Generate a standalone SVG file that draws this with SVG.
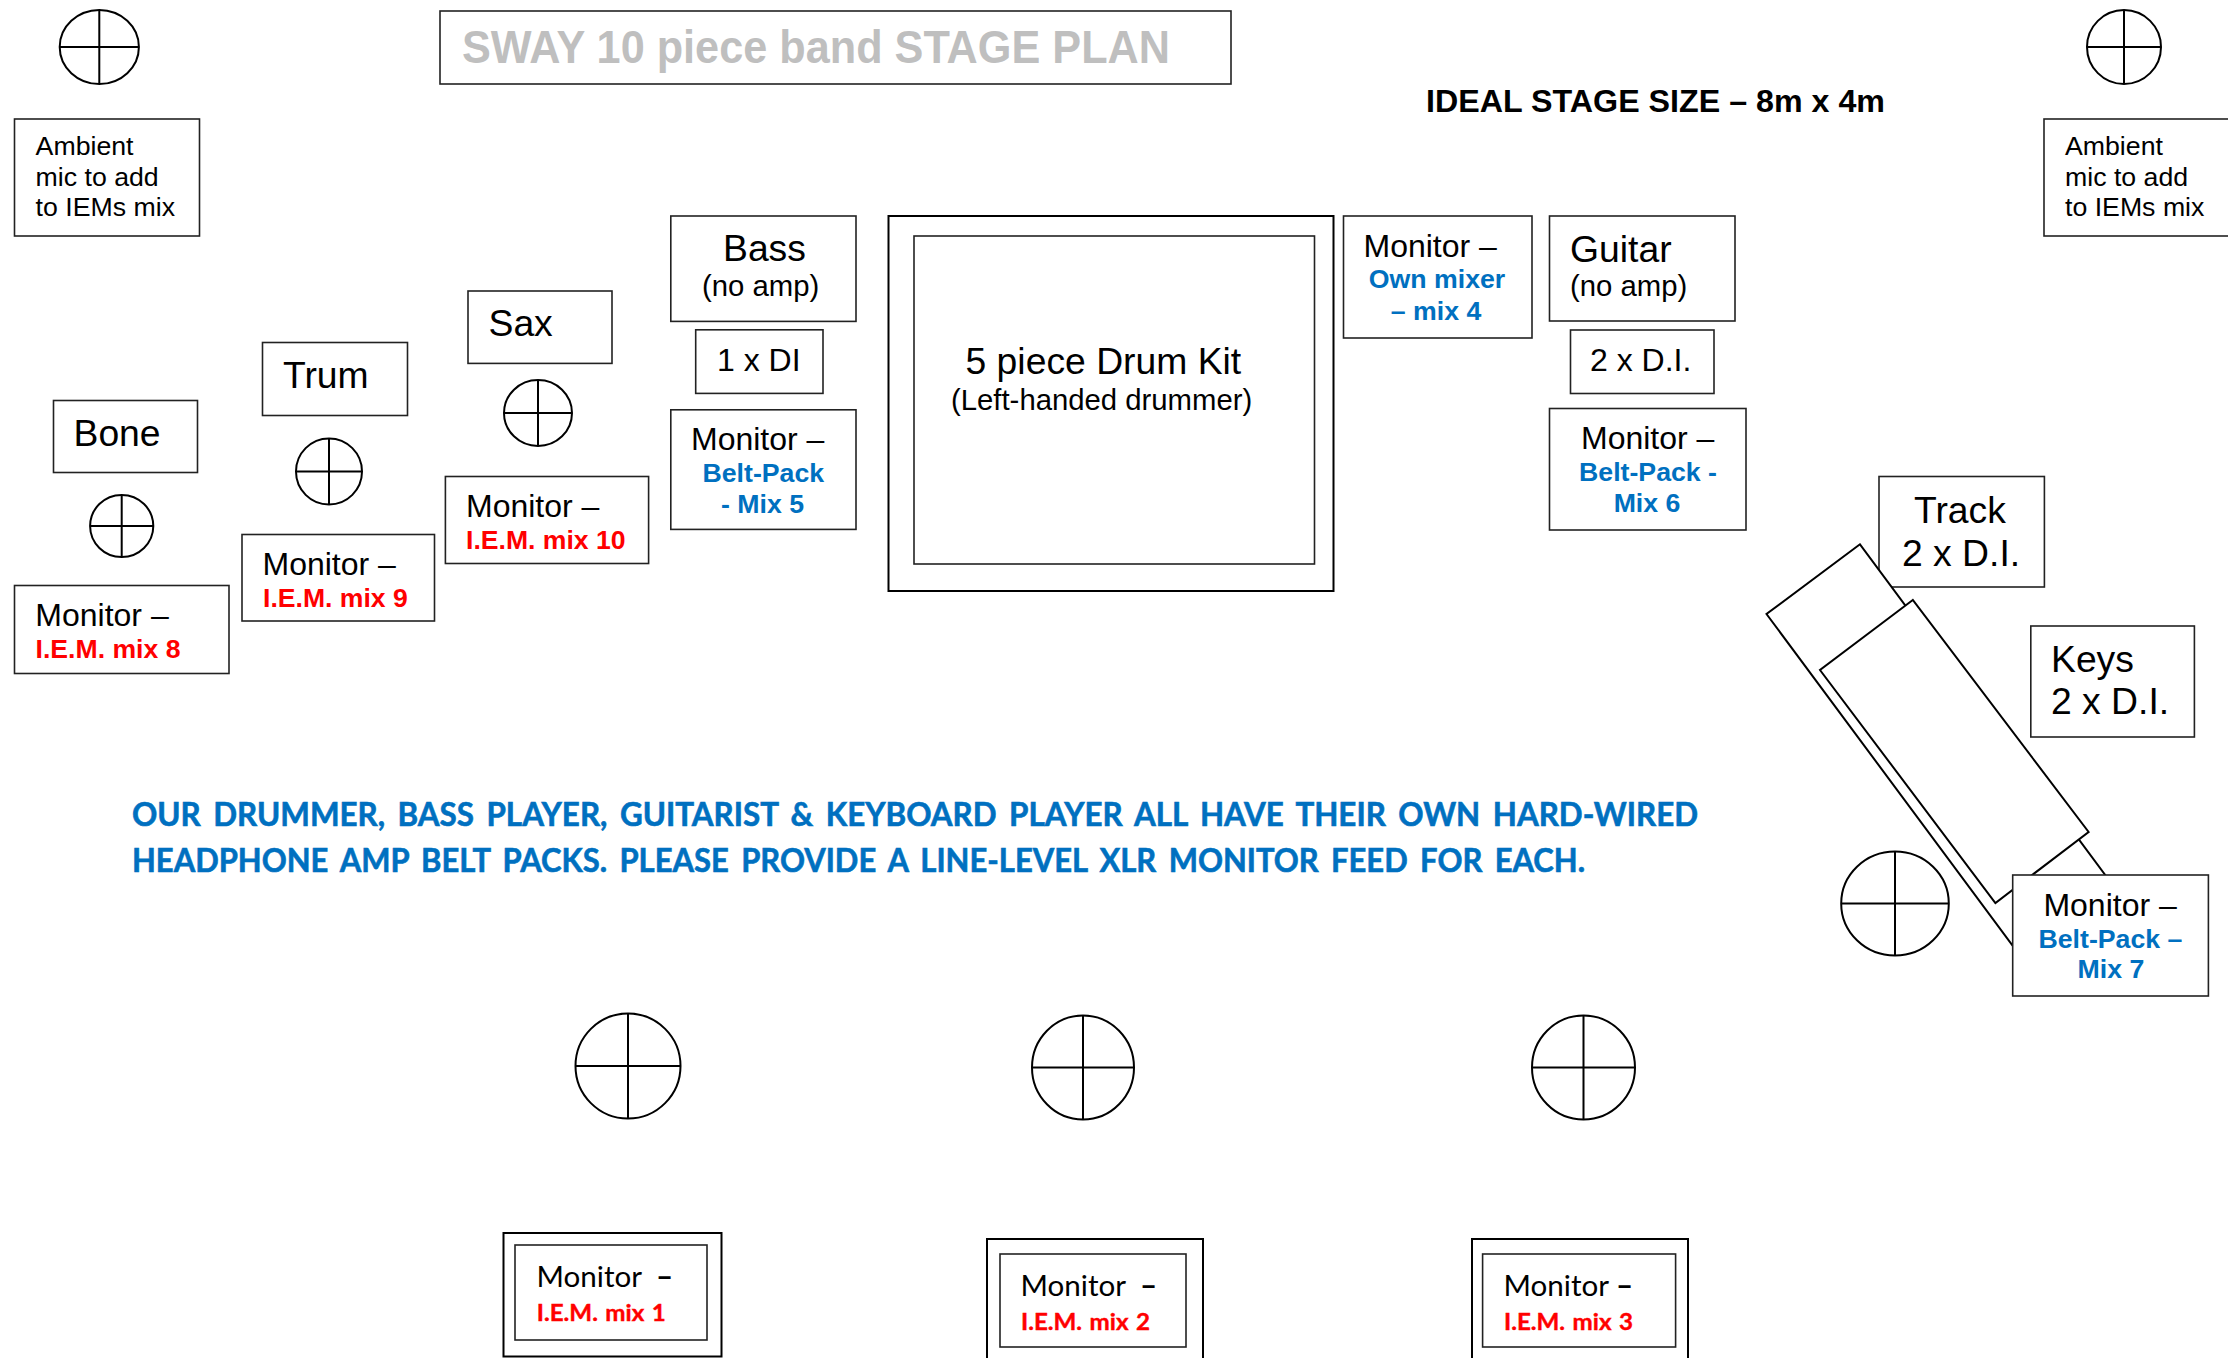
<svg xmlns="http://www.w3.org/2000/svg" width="2228" height="1358" viewBox="0 0 2228 1358">
<style>
text{font-family:"Liberation Sans",Arial,sans-serif;fill:#000}
.b{fill:#fff;stroke:#222;stroke-width:1.6}
.k{fill:#fff;stroke:#000;stroke-width:2}
.h{fill:none;stroke:#000;stroke-width:2}
.t37{font-size:37.300px}.t32{font-size:32px}.t29{font-size:29.300px}.t27{font-size:26.700px}
.red{font-size:26.600px;font-weight:700;fill:#f00}
.blue{font-size:26.700px;font-weight:700;fill:#0070c0}
.c{font-family:Lato,"Open Sans",sans-serif;font-size:29.600px}
.cred{font-family:Lato,"Open Sans",sans-serif;font-size:22.500px;font-weight:700;fill:#f00;stroke:#f00;stroke-width:.4px;word-spacing:1.5px}
.note{font-family:Lato,"Open Sans",sans-serif;font-size:32px;font-weight:700;fill:#0070c0;stroke:#0070c0;stroke-width:.6px;word-spacing:5px}
</style>
<rect width="2228" height="1358" fill="#fff"/>
<defs>
<g id="mic"><ellipse rx="1" ry="1" vector-effect="non-scaling-stroke" class="h"/><path d="M-1 0H1M0-1V1" vector-effect="non-scaling-stroke" class="h"/></g>
</defs>
<g id="title"><rect class="b" x="440" y="11" width="791" height="73"/><text x="462" y="63" font-size="46" font-weight="700" style="fill:#bfbfbf" textLength="708" lengthAdjust="spacingAndGlyphs">SWAY 10 piece band STAGE PLAN</text></g>
<g id="stage-size"><text x="1426" y="112" font-size="32" font-weight="700" textLength="459" lengthAdjust="spacingAndGlyphs">IDEAL STAGE SIZE – 8m x 4m</text></g>
<use id="mic-ambient-left" href="#mic" transform="translate(99.300 47) scale(39.600 37)"/>
<g id="ambient-left"><rect class="b" x="14.500" y="119" width="185" height="117"/><text class="t27" x="35.600" y="155">Ambient</text><text class="t27" x="35.600" y="186">mic to add</text><text class="t27" x="35.600" y="216">to IEMs mix</text></g>
<use id="mic-ambient-right" href="#mic" transform="translate(2124 47) scale(37 37)"/>
<g id="ambient-right"><rect class="b" x="2044" y="119" width="190" height="117"/><text class="t27" x="2065" y="155">Ambient</text><text class="t27" x="2065" y="186">mic to add</text><text class="t27" x="2065" y="216">to IEMs mix</text></g>
<g id="bone"><rect class="b" x="53.500" y="400.500" width="144" height="72"/><text class="t37" x="73.500" y="446">Bone</text></g>
<use id="mic-bone" href="#mic" transform="translate(121.700 526) scale(31.600 31)"/>
<g id="monitor-8"><rect class="b" x="14.500" y="585.500" width="214.500" height="88"/><text class="t32" x="35.300" y="626">Monitor –</text><text class="red" x="35.600" y="658">I.E.M. mix 8</text></g>
<g id="trum"><rect class="b" x="262.500" y="342.500" width="145" height="73"/><text class="t37" x="283" y="387.500">Trum</text></g>
<use id="mic-trum" href="#mic" transform="translate(329 471.500) scale(33 33)"/>
<g id="monitor-9"><rect class="b" x="242" y="534.500" width="192.500" height="86.500"/><text class="t32" x="262.500" y="575">Monitor –</text><text class="red" x="263" y="607">I.E.M. mix 9</text></g>
<g id="sax"><rect class="b" x="468" y="291" width="144" height="72.400"/><text class="t37" x="488.500" y="335.700">Sax</text></g>
<use id="mic-sax" href="#mic" transform="translate(538 413) scale(34 33)"/>
<g id="monitor-10"><rect class="b" x="445.400" y="476.500" width="203.200" height="87"/><text class="t32" x="466" y="516.500">Monitor –</text><text class="red" x="466" y="549">I.E.M. mix 10</text></g>
<g id="bass"><rect class="b" x="670.800" y="216" width="185.200" height="105.400"/><text class="t37" x="723" y="260.700">Bass</text><text class="t29" x="702" y="296">(no amp)</text></g>
<g id="bass-di"><rect class="b" x="695.700" y="329.800" width="127.300" height="63.600"/><text class="t32" x="717" y="371">1 x DI</text></g>
<g id="monitor-5"><rect class="b" x="670.800" y="409.800" width="185.200" height="119.600"/><text class="t32" x="691" y="450">Monitor –</text><text class="blue" x="702.500" y="482">Belt-Pack</text><text class="blue" x="721" y="513">- Mix 5</text></g>
<g id="drum-kit"><rect class="k" x="888.500" y="216" width="445" height="375"/><rect class="b" x="914" y="236" width="400.500" height="328"/><text class="t37" x="965.500" y="374">5 piece Drum Kit</text><text class="t29" x="951" y="410">(Left-handed drummer)</text></g>
<g id="monitor-4"><rect class="b" x="1343.500" y="216" width="188.500" height="122"/><text class="t32" x="1363.500" y="257">Monitor –</text><text class="blue" x="1437" y="288" text-anchor="middle">Own mixer</text><text class="blue" x="1436" y="320" text-anchor="middle">– mix 4</text></g>
<g id="guitar"><rect class="b" x="1549.500" y="216" width="185.500" height="105"/><text class="t37" x="1570" y="262">Guitar</text><text class="t29" x="1570" y="296">(no amp)</text></g>
<g id="guitar-di"><rect class="b" x="1570.500" y="330" width="143.500" height="63.500"/><text class="t32" x="1590" y="371">2 x D.I.</text></g>
<g id="monitor-6"><rect class="b" x="1549.500" y="408.500" width="196.500" height="121.500"/><text class="t32" x="1581" y="449">Monitor –</text><text class="blue" x="1648" y="481" text-anchor="middle">Belt-Pack -</text><text class="blue" x="1647" y="512" text-anchor="middle">Mix 6</text></g>
<g id="track"><rect class="b" x="1879" y="476.500" width="165.400" height="110.500"/><text class="t37" x="1914" y="523">Track</text><text class="t37" x="1902" y="566">2 x D.I.</text></g>
<g id="keys-stand"><path class="k" d="M1860 544.300L1766.500 614L2030 969L2123 899Z"/><path class="k" d="M1912.800 600L1820 670L1995.400 903L2088.600 832Z"/></g>
<g id="keys"><rect class="b" x="2030.800" y="626" width="163.600" height="111"/><text class="t37" x="2051" y="672">Keys</text><text class="t37" x="2051" y="714">2 x D.I.</text></g>
<use id="mic-keys" href="#mic" transform="translate(1895 903.500) scale(53.800 52)"/>
<g id="monitor-7"><rect class="b" x="2012.700" y="875" width="195.700" height="121"/><text class="t32" x="2043.400" y="916">Monitor –</text><text class="blue" x="2038.500" y="948">Belt-Pack –</text><text class="blue" x="2077.600" y="978">Mix 7</text></g>
<g id="note"><text class="note" x="132" y="826" textLength="1566" lengthAdjust="spacingAndGlyphs">OUR DRUMMER, BASS PLAYER, GUITARIST &amp; KEYBOARD PLAYER ALL HAVE THEIR OWN HARD-WIRED</text><text class="note" x="132" y="872" textLength="1453" lengthAdjust="spacingAndGlyphs">HEADPHONE AMP BELT PACKS. PLEASE PROVIDE A LINE-LEVEL XLR MONITOR FEED FOR EACH.</text></g>
<use id="mic-1" href="#mic" transform="translate(628 1066) scale(52.500 52.500)"/>
<use id="mic-2" href="#mic" transform="translate(1083 1067.500) scale(51 52)"/>
<use id="mic-3" href="#mic" transform="translate(1583.500 1067.500) scale(51.500 52)"/>
<g id="wedge-1"><rect class="k" x="503.500" y="1233" width="218" height="123.500"/><rect class="b" x="515" y="1245" width="192" height="95"/><text class="c" x="536.500" y="1287">Monitor<tspan x="656" style="font-weight:700">–</tspan></text><text class="cred" x="536.800" y="1320.600" textLength="129" lengthAdjust="spacingAndGlyphs">I.E.M. mix 1</text></g>
<g id="wedge-2"><rect class="k" x="987" y="1239" width="216" height="130"/><rect class="b" x="1000" y="1254" width="186" height="93"/><text class="c" x="1020.500" y="1296">Monitor<tspan x="1140" style="font-weight:700">–</tspan></text><text class="cred" x="1021" y="1330" textLength="129" lengthAdjust="spacingAndGlyphs">I.E.M. mix 2</text></g>
<g id="wedge-3"><rect class="k" x="1472" y="1239" width="216" height="130"/><rect class="b" x="1482.600" y="1254" width="193" height="93"/><text class="c" x="1503.500" y="1296">Monitor<tspan x="1616" style="font-weight:700">–</tspan></text><text class="cred" x="1504" y="1330" textLength="129" lengthAdjust="spacingAndGlyphs">I.E.M. mix 3</text></g>
</svg>
